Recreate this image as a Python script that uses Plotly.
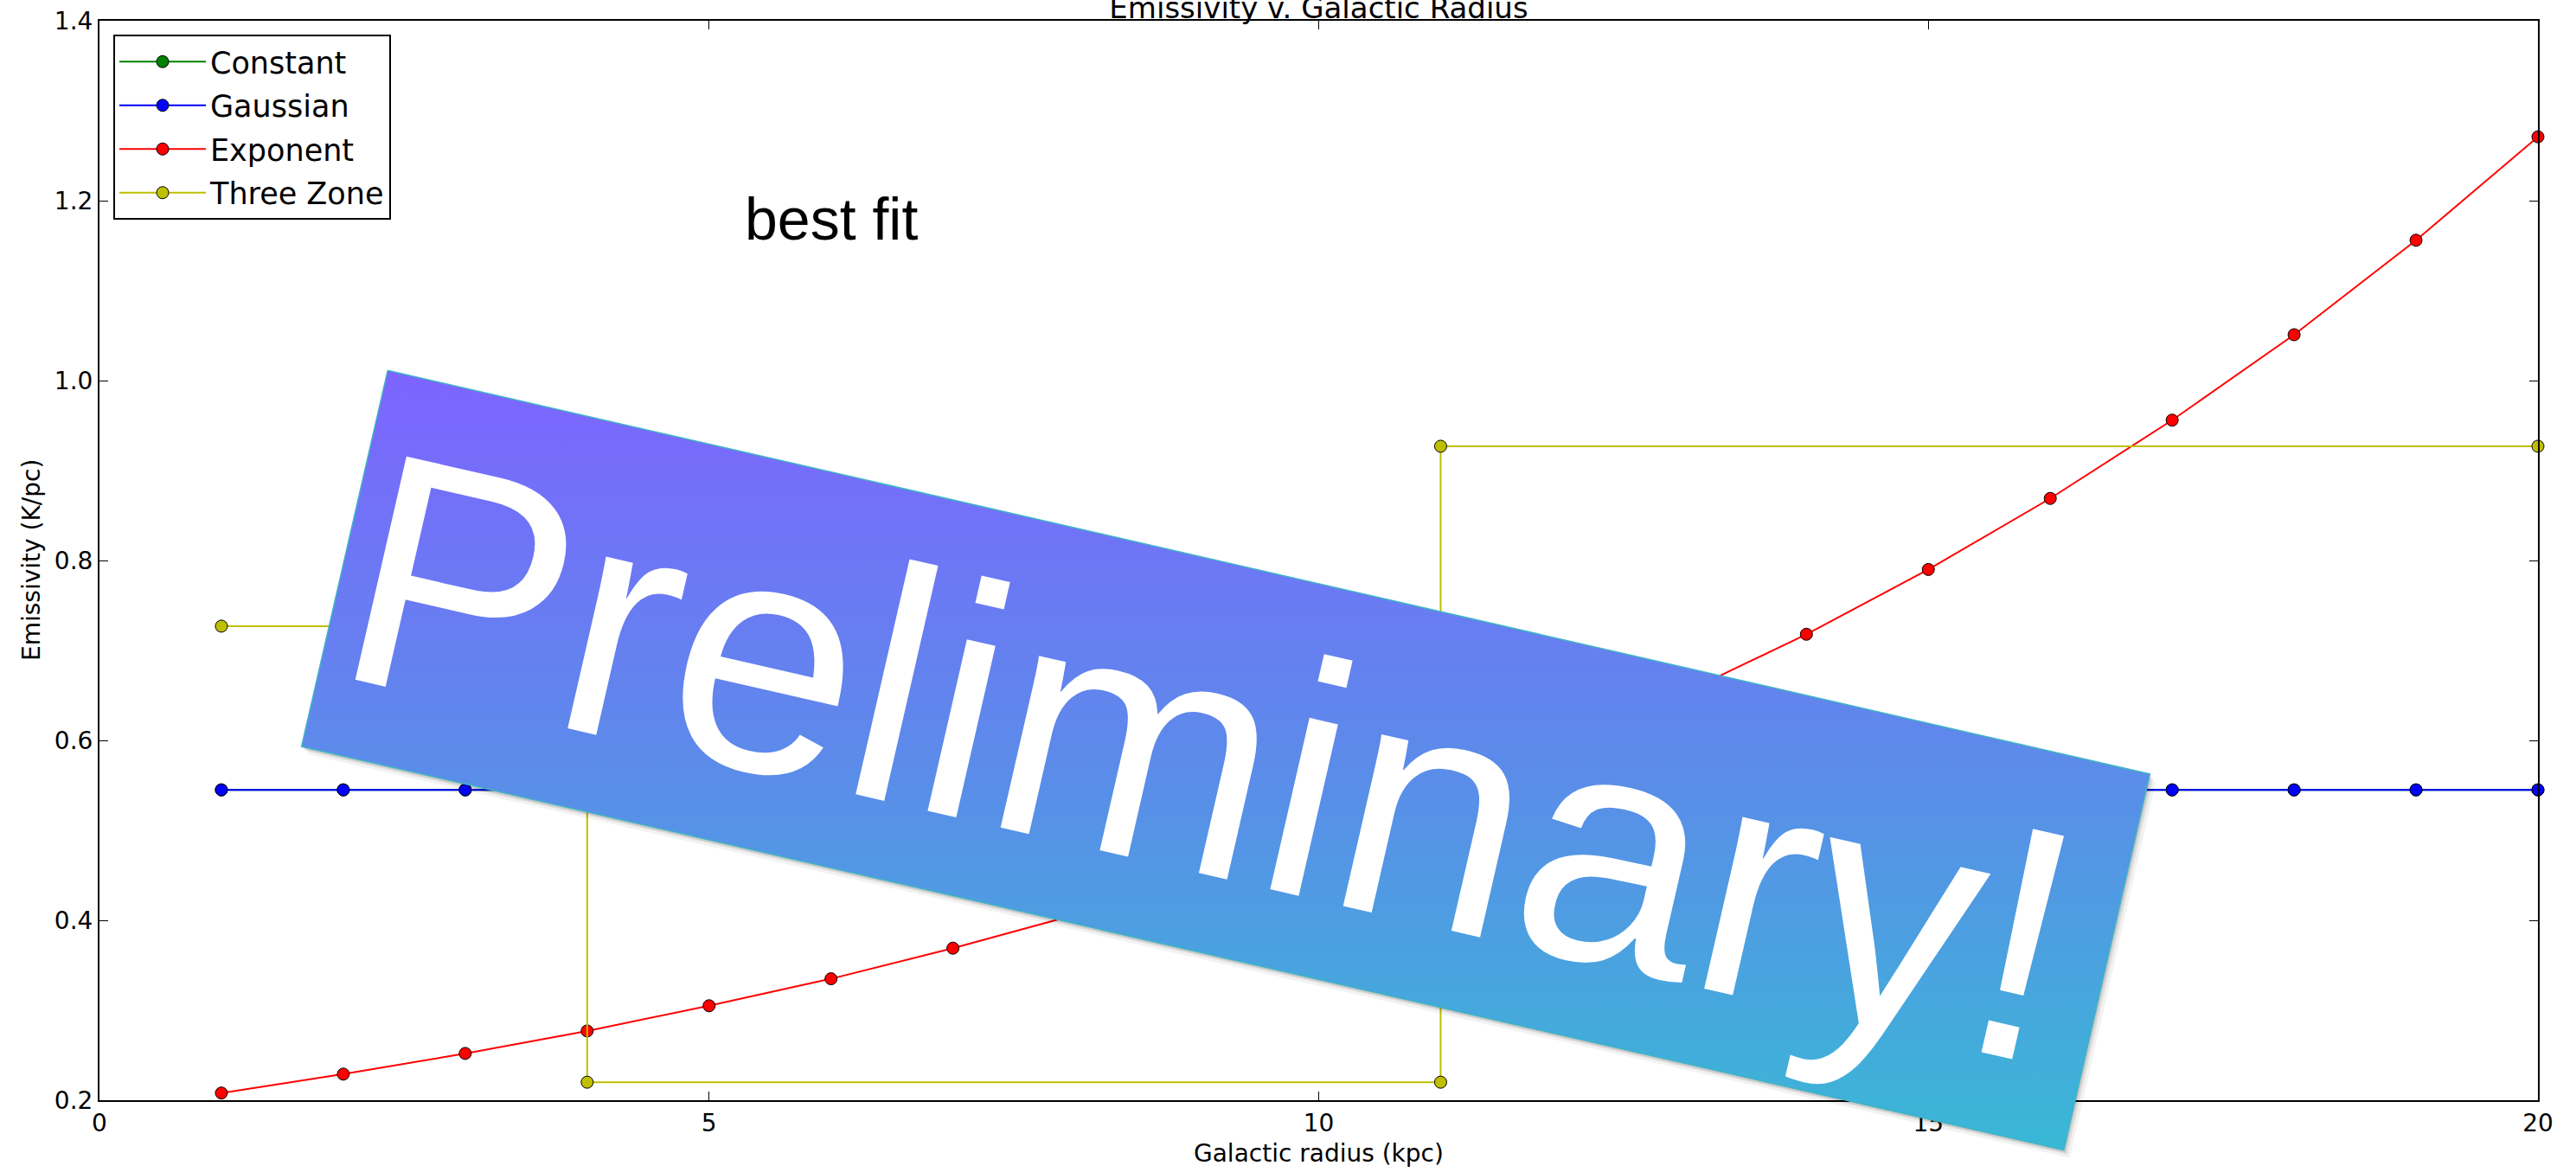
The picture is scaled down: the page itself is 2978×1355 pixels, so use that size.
import math
import plotly.graph_objects as go

# ---------------- data ----------------
radius = [1, 2, 3, 4, 5, 6, 7, 8, 9, 10, 11, 12, 13, 14, 15, 16, 17, 18, 19, 20]
constant = [0.545, 0.545, 0.545, 0.545, 0.545, 0.545, 0.545, 0.545, 0.545, 0.545,
            0.545, 0.545, 0.545, 0.545, 0.545, 0.545, 0.545, 0.545, 0.545, 0.545]
gaussian = [0.545, 0.545, 0.545, 0.545, 0.545, 0.545, 0.545, 0.545, 0.545, 0.545,
            0.545, 0.545, 0.545, 0.545, 0.545, 0.545, 0.545, 0.545, 0.545, 0.545]
exponent = [0.208, 0.229, 0.252, 0.277, 0.305, 0.335, 0.369, 0.406, 0.446, 0.491,
            0.540, 0.594, 0.653, 0.718, 0.790, 0.869, 0.956, 1.051, 1.156, 1.271]
zone_radius = [1, 4, 4, 11, 11, 20]
zone_emiss = [0.727, 0.727, 0.220, 0.220, 0.927, 0.927]

series_names = ["Constant", "Gaussian", "Exponent", "Three Zone"]
series_colors = ["#008000", "#0000ff", "#ff0000", "#bfbf00"]

x_tickvals = [0, 5, 10, 15, 20]
x_ticktext = ["0", "5", "10", "15", "20"]
y_tickvals = [0.2, 0.4, 0.6, 0.8, 1.0, 1.2, 1.4]
y_ticktext = ["0.2", "0.4", "0.6", "0.8", "1.0", "1.2", "1.4"]

title_text = "Emissivity v. Galactic Radius"
x_title = "Galactic radius (kpc)"
y_title = "Emissivity (K/pc)"
note_text = "best fit"
banner_text = "Preliminary!"

# ---------------- layout geometry ----------------
W, H = 2978, 1355
L, R, T, B = 115, 2934, 24, 1272
DEJAVU = "DejaVu Sans"
ARIAL = "Liberation Sans, Arial, sans-serif"

fig = go.Figure()

ys = [constant, gaussian, exponent, zone_emiss]
xs = [radius, radius, radius, zone_radius]
for i, (name, col) in enumerate(zip(series_names, series_colors)):
    fig.add_trace(go.Scatter(
        x=xs[i], y=ys[i], name=name, mode="lines+markers",
        line=dict(color=col, width=2),
        marker=dict(color=col, size=14, line=dict(color="black", width=1)),
        legendgroup=name, xaxis="x", yaxis="y", cliponaxis=False,
    ))

# ---------------- "Preliminary!" banner (decoration, pixel overlay axes) ----------------
cx, cy, bw, bh, ang = 1417, 879, 2090, 446, 12.9
a = math.radians(ang)
ux, uy = math.cos(a), math.sin(a)
vx, vy = -math.sin(a), math.cos(a)


def rect(dx=0.0, dy=0.0):
    pts = []
    for su, sv in [(-1, -1), (1, -1), (1, 1), (-1, 1), (-1, -1)]:
        pts.append((cx + dx + su * bw / 2 * ux + sv * bh / 2 * vx,
                    cy + dy + su * bw / 2 * uy + sv * bh / 2 * vy))
    return [p[0] for p in pts], [p[1] for p in pts]


for (dx, dy, alpha) in [(7, 9, 0.05), (4, 5, 0.08), (2, 3, 0.10)]:
    sx, sy = rect(dx, dy)
    fig.add_trace(go.Scatter(x=sx, y=sy, mode="lines", fill="toself",
                             fillcolor=f"rgba(0,0,0,{alpha})", line=dict(width=0),
                             showlegend=False, hoverinfo="skip",
                             xaxis="x2", yaxis="y2"))

bx, by = rect()
top_y = min(by)
bot_y = max(by)
fig.add_trace(go.Scatter(
    x=bx, y=by, mode="lines", fill="toself",
    line=dict(color="#41b4c6", width=1.5),
    fillgradient=dict(type="vertical",
                      colorscale=[[0, "#7d64ff"], [0.5, "#5c8bea"], [1, "#39b8d5"]],
                      start=top_y, stop=bot_y),
    showlegend=False, hoverinfo="skip", xaxis="x2", yaxis="y2",
))

fig.add_annotation(
    x=1400, y=876, xref="x2", yref="y2", text=banner_text, showarrow=False,
    textangle=ang, xanchor="center", yanchor="middle",
    font=dict(family=ARIAL, size=385, color="white"),
)

# ---------------- text annotations ----------------
fig.add_annotation(x=6.0, y=1.18, xref="x", yref="y", text=note_text, showarrow=False,
                   xanchor="center", yanchor="middle",
                   font=dict(family=ARIAL, size=68, color="black"))
fig.add_annotation(x=(L + R) / 2 / W, y=1 - 1333 / H, xref="paper", yref="paper",
                   text=x_title, showarrow=False, xanchor="center", yanchor="middle",
                   font=dict(family=DEJAVU, size=28, color="black"))
fig.add_annotation(x=36 / W, y=1 - (T + B) / 2 / H, xref="paper", yref="paper",
                   text=y_title, showarrow=False, textangle=-90,
                   xanchor="center", yanchor="middle",
                   font=dict(family=DEJAVU, size=28, color="black"))

axis_common = dict(showgrid=False, zeroline=False, showline=True, linecolor="black",
                   linewidth=2, mirror="allticks", ticks="inside", ticklen=10,
                   tickwidth=1, tickcolor="black",
                   tickfont=dict(family=DEJAVU, size=28, color="black"),
                   automargin=False, fixedrange=True)

fig.update_layout(
    width=W, height=H, template="none",
    margin=dict(l=0, r=0, t=0, b=0, pad=0),
    paper_bgcolor="white", plot_bgcolor="rgba(0,0,0,0)",
    font=dict(family=DEJAVU, color="black"),
    title=dict(text=title_text, x=(L + R) / 2 / W, xanchor="center",
               y=1 - 21 / H, yanchor="bottom", yref="container",
               font=dict(family=DEJAVU, size=34, color="black")),
    xaxis=dict(range=[0, 20], domain=[L / W, R / W], anchor="y",
               tickvals=x_tickvals, ticktext=x_ticktext, **axis_common),
    yaxis=dict(range=[0.2, 1.4], domain=[1 - B / H, 1 - T / H], anchor="x",
               tickvals=y_tickvals, ticktext=y_ticktext, **axis_common),
    xaxis2=dict(range=[0, W], domain=[0, 1], anchor="y2", visible=False, fixedrange=True),
    yaxis2=dict(range=[H, 0], domain=[0, 1], anchor="x2", visible=False, fixedrange=True),
    legend=dict(x=131 / W, y=1 - 40 / H, xanchor="left", yanchor="top",
                bgcolor="white", bordercolor="black", borderwidth=2,
                font=dict(family=DEJAVU, size=35, color="black"),
                tracegroupgap=2, itemwidth=100),
    showlegend=True,
)

fig.write_html("out.html")
